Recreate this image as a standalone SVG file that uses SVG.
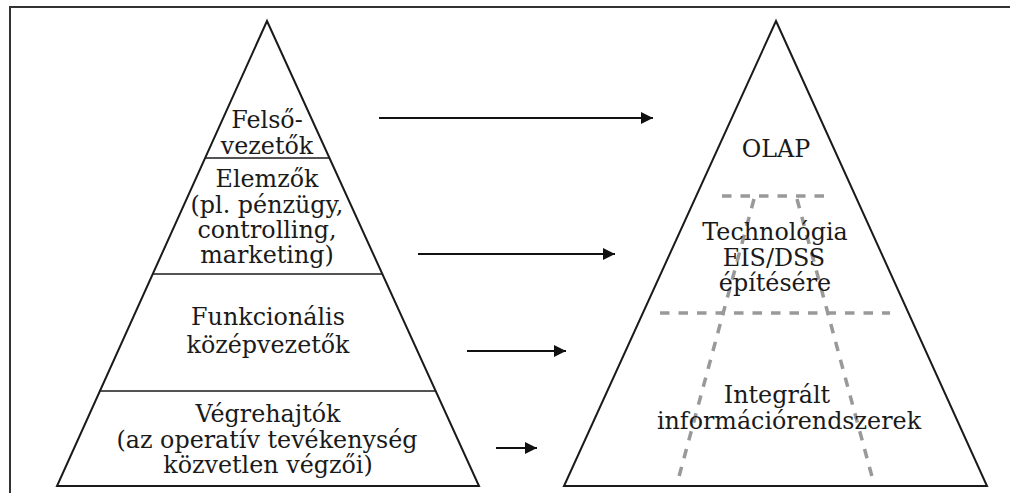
<svg xmlns="http://www.w3.org/2000/svg" width="1010" height="493" viewBox="0 0 1010 493">
<defs>
<style>
.t{font-family:"DejaVu Serif","Liberation Serif",serif;font-size:23.8px;fill:#1a1a1a;text-anchor:middle}
.tri{fill:none;stroke:#1a1a1a;stroke-width:2;stroke-linejoin:miter}
.sep{stroke:#1a1a1a;stroke-width:1.6}
.dash{stroke:#999;stroke-width:3.5;stroke-dasharray:9.5 9;fill:none}
.arr{stroke:#111;stroke-width:2.2;fill:none;marker-end:url(#ah)}
.frame{stroke:#333;stroke-width:2;fill:none}
</style>
<marker id="ah" viewBox="0 0 12 12" refX="12" refY="6" markerWidth="12" markerHeight="12" markerUnits="userSpaceOnUse" orient="auto">
<path d="M0,0 L12,6 L0,12 Z" fill="#111"/>
</marker>
</defs>
<path class="frame" d="M10,493 L10,7 L1010,7"/>
<g id="left-pyramid">
<polygon class="tri" points="267,21 479,486 57,486"/>
<line class="sep" x1="205" y1="158" x2="330" y2="158"/>
<line class="sep" x1="153" y1="274" x2="382" y2="274"/>
<line class="sep" x1="99" y1="391" x2="436" y2="391"/>
</g>
<g id="felsovezetok">
<text class="t" x="267" y="128">Felső-</text>
<text class="t" x="267" y="154">vezetők</text>
</g>
<g id="elemzok">
<text class="t" x="267" y="187">Elemzők</text>
<text class="t" x="267" y="213">(pl. pénzügy,</text>
<text class="t" x="267" y="238">controlling,</text>
<text class="t" x="267" y="263">marketing)</text>
</g>
<g id="kozepvezetok">
<text class="t" x="268" y="325">Funkcionális</text>
<text class="t" x="268" y="353">középvezetők</text>
</g>
<g id="vegrehajtok">
<text class="t" x="268" y="422">Végrehajtók</text>
<text class="t" x="267" y="448">(az operatív tevékenység</text>
<text class="t" x="268" y="473">közvetlen végzői)</text>
</g>
<g id="right-pyramid">
<polygon class="tri" points="776,21 987,486 564,486"/>
<line class="dash" x1="722" y1="196" x2="826" y2="196"/>
<line class="dash" x1="660" y1="313" x2="890" y2="313"/>
<line class="dash" x1="754" y1="199" x2="677" y2="484"/>
<line class="dash" x1="797" y1="199" x2="874" y2="484"/>
</g>
<g id="olap">
<text class="t" x="776" y="157">OLAP</text>
</g>
<g id="technologia">
<text class="t" x="775" y="240">Technológia</text>
<text class="t" x="774" y="266">EIS/DSS</text>
<text class="t" x="775" y="291">építésére</text>
</g>
<g id="integralt">
<text class="t" x="777" y="403">Integrált</text>
<text class="t" x="789" y="429">információrendszerek</text>
</g>
<g id="connectors">
<line class="arr" x1="379" y1="118" x2="653" y2="118"/>
<line class="arr" x1="418" y1="254" x2="615" y2="254"/>
<line class="arr" x1="467" y1="351" x2="566" y2="351"/>
<line class="arr" x1="496" y1="448" x2="537" y2="448"/>
</g>
</svg>
